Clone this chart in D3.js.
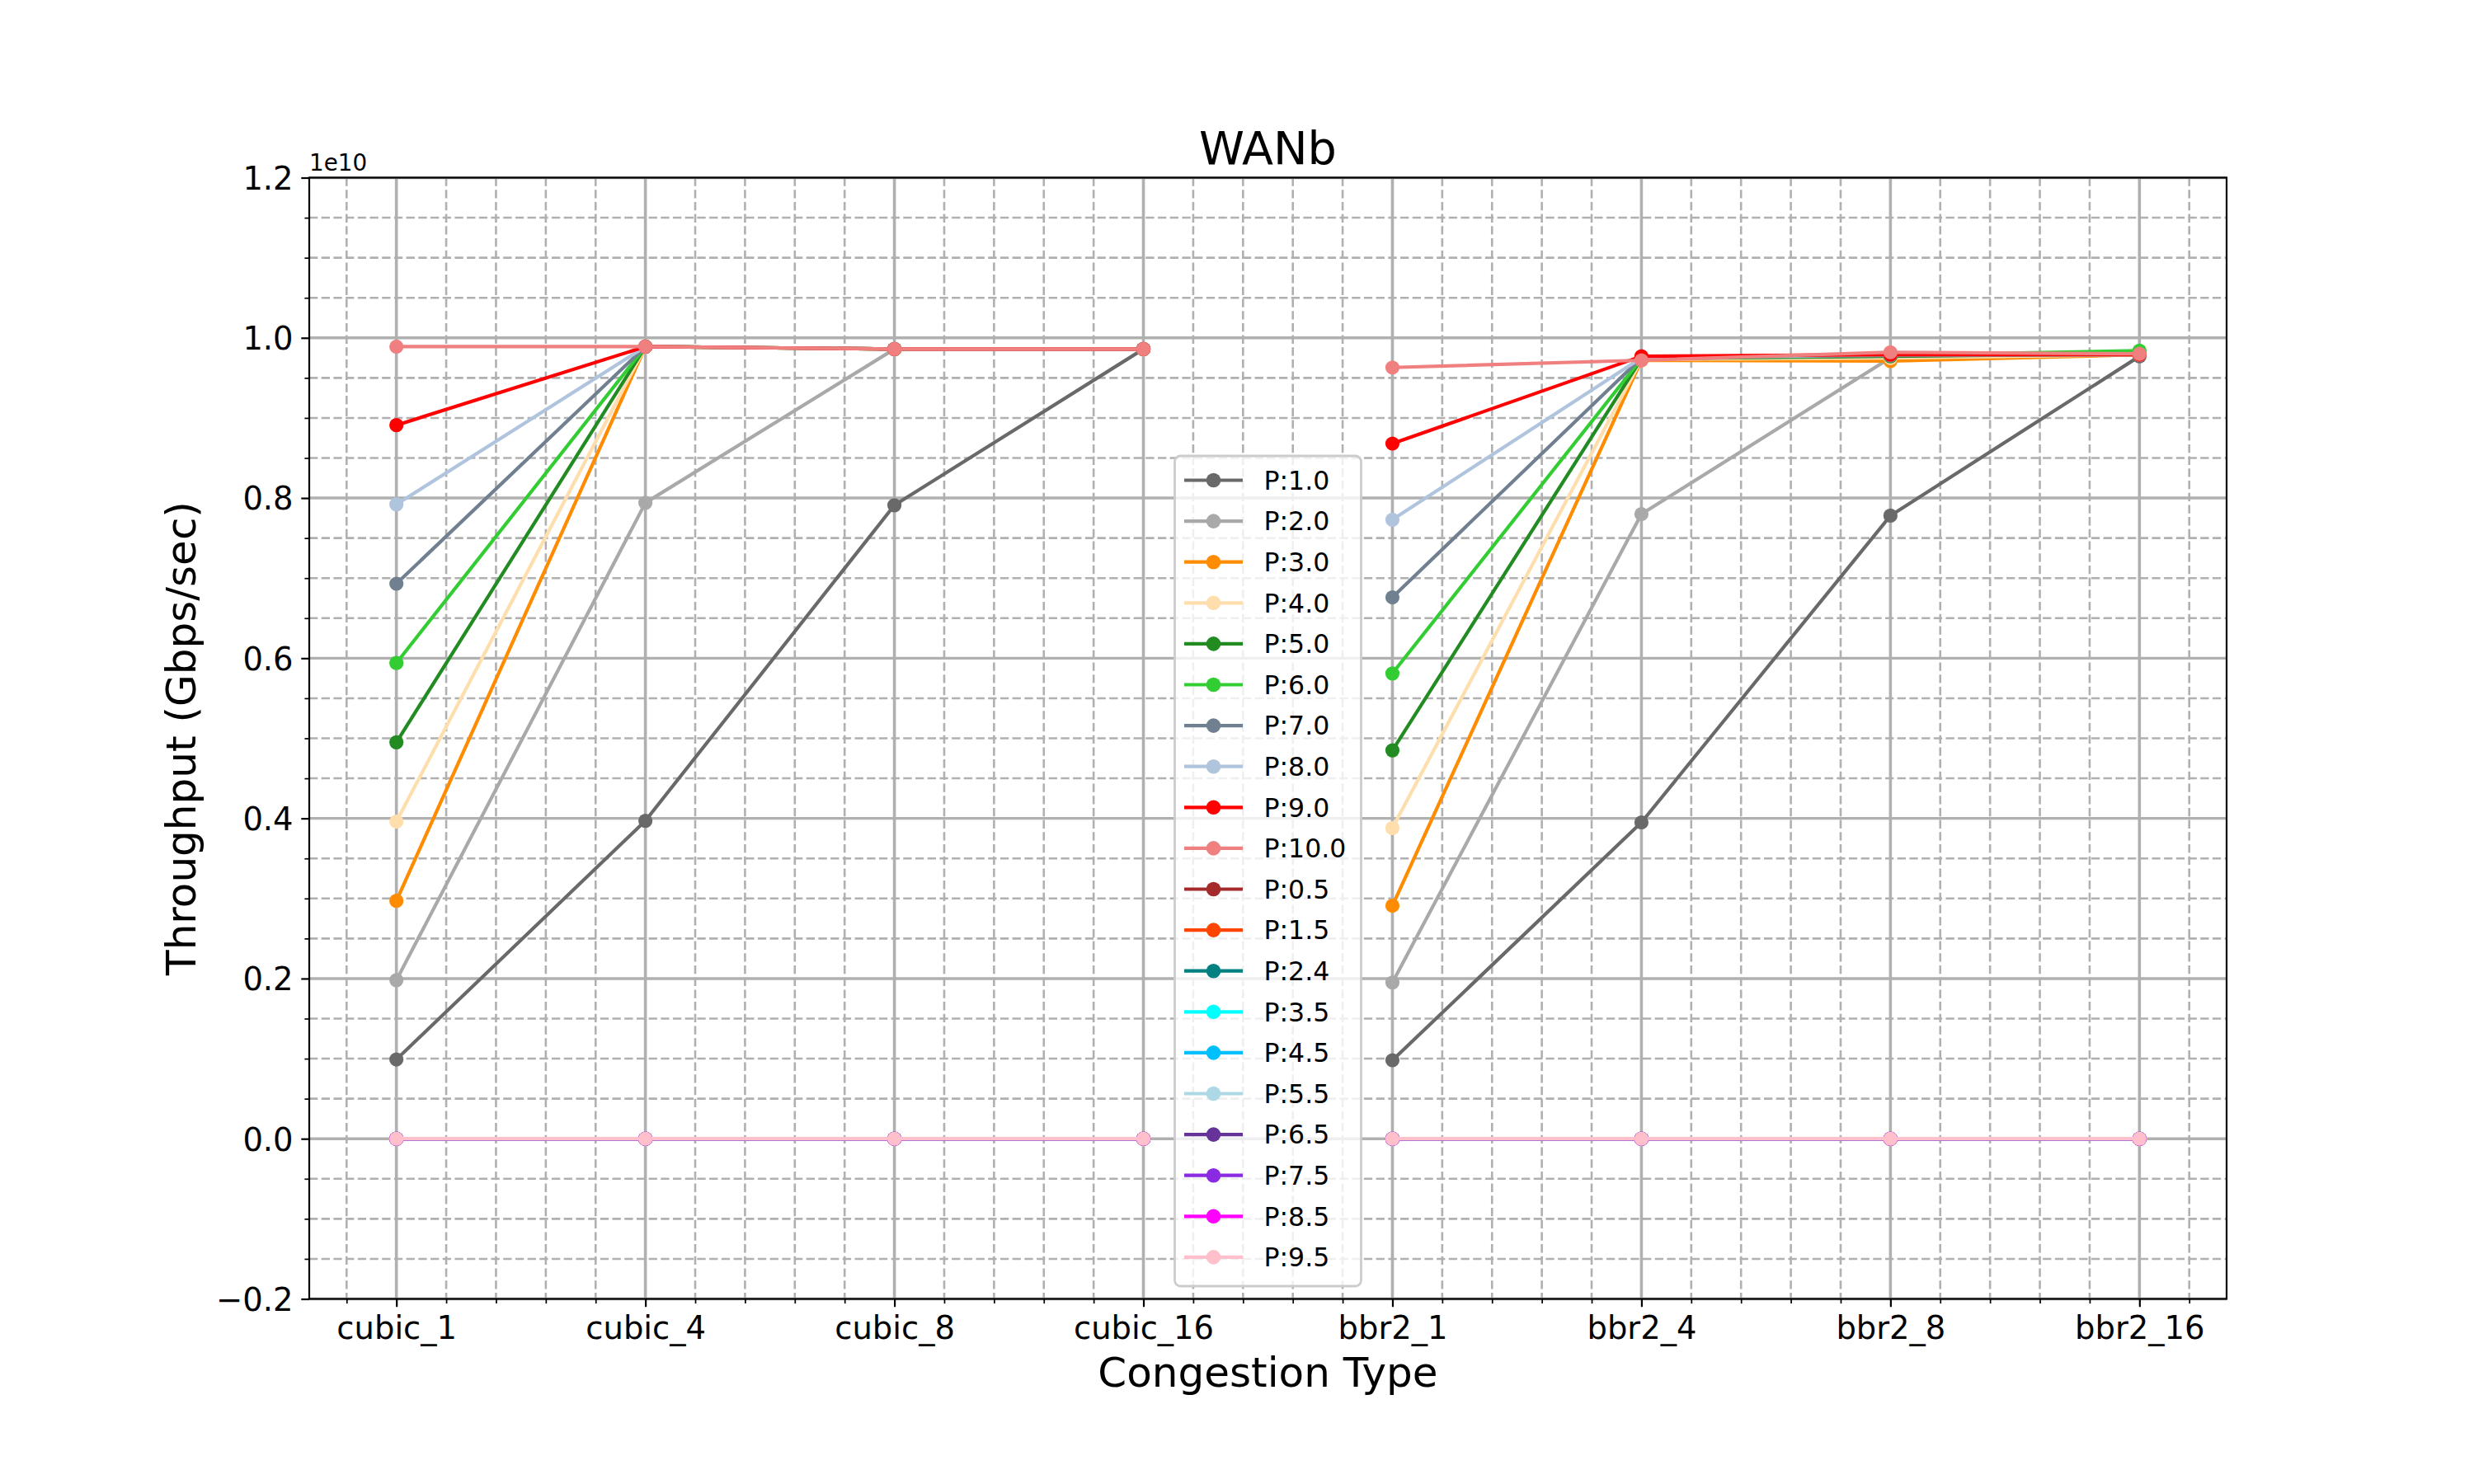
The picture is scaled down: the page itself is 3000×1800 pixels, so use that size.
<!DOCTYPE html>
<html>
<head>
<meta charset="utf-8">
<script src="https://cdn.jsdelivr.net/npm/d3@7"></script>
<style>
  html, body { margin: 0; padding: 0; background: #ffffff; }
  svg { display: block; font-family: "DejaVu Sans", sans-serif; }
</style>
</head>
<body>
<svg id="chart" width="3000" height="1800"></svg>
<script>
// ---------------- DATA (values in units of 1e10) ----------------
const categories = ["cubic_1", "cubic_4", "cubic_8", "cubic_16", "bbr2_1", "bbr2_4", "bbr2_8", "bbr2_16"];
// the cubic and bbr2 groups are plotted as separate segments
const groups = [[0, 1, 2, 3], [4, 5, 6, 7]];

const yTicks = [-0.2, 0.0, 0.2, 0.4, 0.6, 0.8, 1.0, 1.2];
const yTickLabels = ["\u22120.2", "0.0", "0.2", "0.4", "0.6", "0.8", "1.0", "1.2"];
const offsetLabel = "1e10";

const seriesLabels = ["P:1.0", "P:2.0", "P:3.0", "P:4.0", "P:5.0", "P:6.0", "P:7.0", "P:8.0", "P:9.0", "P:10.0",
                      "P:0.5", "P:1.5", "P:2.4", "P:3.5", "P:4.5", "P:5.5", "P:6.5", "P:7.5", "P:8.5", "P:9.5"];
const seriesColors = ["#696969", "#a9a9a9", "#ff8c00", "#ffdead", "#228b22", "#32cd32", "#708090", "#b0c4de", "#ff0000", "#f08080",
                      "#a52a2a", "#ff4500", "#008080", "#00ffff", "#00bfff", "#add8e6", "#663399", "#8a2be2", "#ff00ff", "#ffc0cb"];

const p1_0  = [0.099, 0.397, 0.791, 0.986, 0.098, 0.395, 0.778, 0.977];
const p2_0  = [0.198, 0.794, 0.986, 0.986, 0.195, 0.780, 0.975, 0.979];
const p3_0  = [0.297, 0.989, 0.986, 0.986, 0.291, 0.972, 0.971, 0.979];
const p4_0  = [0.396, 0.989, 0.986, 0.986, 0.388, 0.973, 0.975, 0.979];
const p5_0  = [0.495, 0.989, 0.986, 0.986, 0.485, 0.974, 0.977, 0.980];
const p6_0  = [0.594, 0.989, 0.986, 0.986, 0.581, 0.974, 0.978, 0.984];
const p7_0  = [0.693, 0.989, 0.986, 0.986, 0.676, 0.975, 0.978, 0.979];
const p8_0  = [0.792, 0.989, 0.986, 0.986, 0.773, 0.975, 0.979, 0.979];
const p9_0  = [0.891, 0.989, 0.986, 0.986, 0.868, 0.977, 0.979, 0.979];
const p10_0 = [0.989, 0.989, 0.986, 0.986, 0.963, 0.972, 0.982, 0.980];
const p0_5  = [0, 0, 0, 0, 0, 0, 0, 0];
const p1_5  = [0, 0, 0, 0, 0, 0, 0, 0];
const p2_4  = [0, 0, 0, 0, 0, 0, 0, 0];
const p3_5  = [0, 0, 0, 0, 0, 0, 0, 0];
const p4_5  = [0, 0, 0, 0, 0, 0, 0, 0];
const p5_5  = [0, 0, 0, 0, 0, 0, 0, 0];
const p6_5  = [0, 0, 0, 0, 0, 0, 0, 0];
const p7_5  = [0, 0, 0, 0, 0, 0, 0, 0];
const p8_5  = [0, 0, 0, 0, 0, 0, 0, 0];
const p9_5  = [0, 0, 0, 0, 0, 0, 0, 0];

const seriesValues = [p1_0, p2_0, p3_0, p4_0, p5_0, p6_0, p7_0, p8_0, p9_0, p10_0,
                      p0_5, p1_5, p2_4, p3_5, p4_5, p5_5, p6_5, p7_5, p8_5, p9_5];

const titleText = "WANb";
const xLabelText = "Congestion Type";
const yLabelText = "Throughput (Gbps/sec)";

// ---------------- LAYOUT ----------------
const L = 375, R = 2700, T = 215.5, B = 1575.5;
const svg = d3.select("#chart");
const font = "DejaVu Sans";
const gridColor = "#b0b0b0";

const x = d3.scaleLinear().domain([-0.35, categories.length - 1 + 0.35]).range([L, R]);
const y = d3.scaleLinear().domain([-0.2, 1.2]).range([B, T]);

const xMajor = d3.range(categories.length);
const xMinor = d3.range(-1, 37).map(i => i * 0.2).filter(v => Math.abs(v - Math.round(v)) > 1e-6 && v > -0.35 && v < 7.35);
const yMinor = d3.range(-4, 25).map(i => i * 0.05).filter(v => Math.abs(v * 5 - Math.round(v * 5)) > 1e-6 && v > -0.2 && v < 1.2);

// ---------------- GRID ----------------
const grid = svg.append("g");
grid.selectAll(".xmin").data(xMinor).join("line")
  .attr("x1", d => x(d)).attr("x2", d => x(d)).attr("y1", T).attr("y2", B)
  .attr("stroke", gridColor).attr("stroke-width", 2.6).attr("stroke-dasharray", "10.3,4.4");
grid.selectAll(".ymin").data(yMinor).join("line")
  .attr("x1", L).attr("x2", R).attr("y1", d => y(d)).attr("y2", d => y(d))
  .attr("stroke", gridColor).attr("stroke-width", 2.6).attr("stroke-dasharray", "10.3,4.4");
grid.selectAll(".xmaj").data(xMajor).join("line")
  .attr("x1", d => x(d)).attr("x2", d => x(d)).attr("y1", T).attr("y2", B)
  .attr("stroke", gridColor).attr("stroke-width", 3.6);
grid.selectAll(".ymaj").data(yTicks).join("line")
  .attr("x1", L).attr("x2", R).attr("y1", d => y(d)).attr("y2", d => y(d))
  .attr("stroke", gridColor).attr("stroke-width", 3.4);

// ---------------- SERIES ----------------
const line = d3.line().x(d => x(d.i)).y(d => y(d.v));
const plot = svg.append("g");
seriesValues.forEach((vals, si) => {
  const g = plot.append("g");
  groups.forEach(idx => {
    const pts = idx.map(i => ({ i: i, v: vals[i] }));
    g.append("path").datum(pts)
      .attr("d", line).attr("fill", "none")
      .attr("stroke", seriesColors[si]).attr("stroke-width", 4.2)
      .attr("stroke-linejoin", "round").attr("stroke-linecap", "butt");
  });
  g.selectAll("circle").data(vals).join("circle")
    .attr("cx", (d, i) => x(i)).attr("cy", d => y(d)).attr("r", 8.6)
    .attr("fill", seriesColors[si]);
});

// ---------------- AXES ----------------
const xAxis = d3.axisBottom(x).tickValues(xMajor).tickFormat(i => categories[i])
  .tickSize(9.7).tickSizeOuter(0).tickPadding(9.7);
const gx = svg.append("g").attr("transform", `translate(0,${B})`).call(xAxis);
gx.select(".domain").remove();
gx.selectAll(".tick line").attr("stroke", "#000").attr("stroke-width", 2.2);
gx.selectAll(".tick text").attr("font-family", font).attr("font-size", 38.5).attr("fill", "#000")
  .attr("dy", "0.76em");
const gxm = svg.append("g").attr("transform", `translate(0,${B})`)
  .call(d3.axisBottom(x).tickValues(xMinor).tickFormat("").tickSize(5.6).tickSizeOuter(0));
gxm.select(".domain").remove();
gxm.selectAll(".tick line").attr("stroke", "#000").attr("stroke-width", 1.7);

const yAxis = d3.axisLeft(y).tickValues(yTicks).tickFormat((d, i) => yTickLabels[i])
  .tickSize(9.7).tickSizeOuter(0).tickPadding(9.7);
const gy = svg.append("g").attr("transform", `translate(${L},0)`).call(yAxis);
gy.select(".domain").remove();
gy.selectAll(".tick line").attr("stroke", "#000").attr("stroke-width", 2.2);
gy.selectAll(".tick text").attr("font-family", font).attr("font-size", 38.5).attr("fill", "#000")
  .attr("dy", "0.36em");
const gym = svg.append("g").attr("transform", `translate(${L},0)`)
  .call(d3.axisLeft(y).tickValues(yMinor).tickFormat("").tickSize(5.6).tickSizeOuter(0));
gym.select(".domain").remove();
gym.selectAll(".tick line").attr("stroke", "#000").attr("stroke-width", 1.7);

// spines
svg.append("rect").attr("x", L).attr("y", T).attr("width", R - L).attr("height", B - T)
  .attr("fill", "none").attr("stroke", "#000").attr("stroke-width", 2.2);

// ---------------- TEXTS ----------------
svg.append("text").attr("x", (L + R) / 2).attr("y", 199).attr("text-anchor", "middle")
  .attr("font-family", font).attr("font-size", 55.6).attr("fill", "#000").text(titleText);
svg.append("text").attr("x", (L + R) / 2).attr("y", 1682).attr("text-anchor", "middle")
  .attr("font-family", font).attr("font-size", 50).attr("fill", "#000").text(xLabelText);
svg.append("text").attr("transform", `translate(237,${(T + B) / 2}) rotate(-90)`).attr("text-anchor", "middle")
  .attr("font-family", font).attr("font-size", 50).attr("fill", "#000").text(yLabelText);
svg.append("text").attr("x", L).attr("y", 207).attr("text-anchor", "start")
  .attr("font-family", font).attr("font-size", 27.8).attr("fill", "#000").text(offsetLabel);

// ---------------- LEGEND ----------------
const legW = 226, legTop = 553, legBottom = 1560;
const legLeft = (L + R) / 2 - legW / 2;
const leg = svg.append("g");
leg.append("rect").attr("x", legLeft).attr("y", legTop).attr("width", legW).attr("height", legBottom - legTop)
  .attr("rx", 7).attr("ry", 7)
  .attr("fill", "#ffffff").attr("fill-opacity", 0.8)
  .attr("stroke", "#cccccc").attr("stroke-width", 2.8);
const rowY = i => 582.5 + i * 49.6;
seriesLabels.forEach((lab, i) => {
  const yy = rowY(i);
  leg.append("line").attr("x1", legLeft + 11.5).attr("x2", legLeft + 82.5).attr("y1", yy).attr("y2", yy)
    .attr("stroke", seriesColors[i]).attr("stroke-width", 4.2);
  leg.append("circle").attr("cx", legLeft + 47).attr("cy", yy).attr("r", 8.8).attr("fill", seriesColors[i]);
  leg.append("text").attr("x", legLeft + 108).attr("y", yy + 11.3).attr("font-family", font)
    .attr("font-size", 31.5).attr("fill", "#000").text(lab);
});
</script>
</body>
</html>
